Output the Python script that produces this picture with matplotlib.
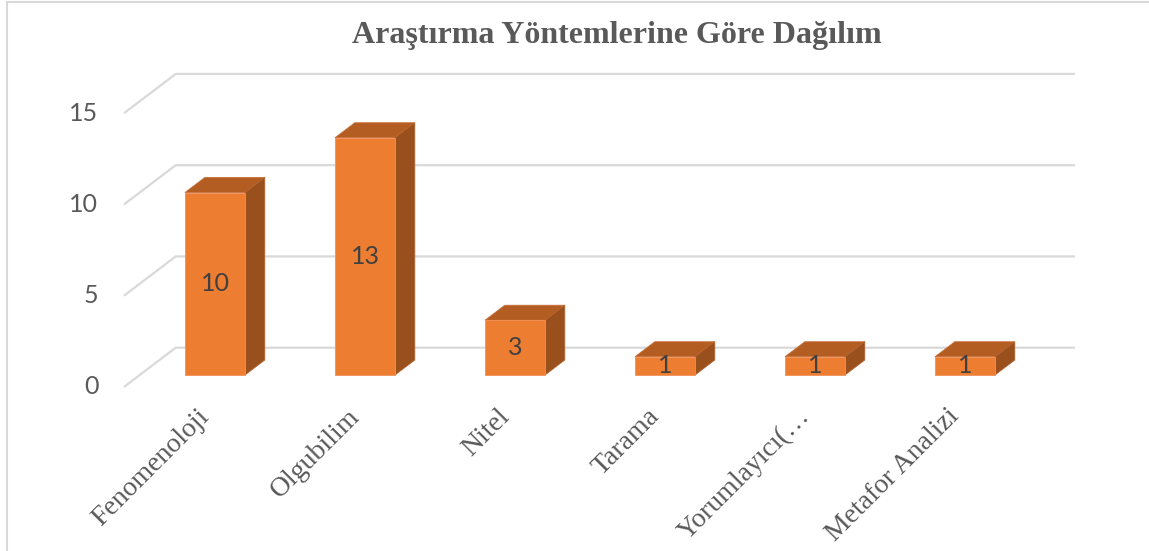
import matplotlib
matplotlib.use("Agg")
import matplotlib.pyplot as plt
from matplotlib.patches import Polygon, Rectangle
from matplotlib.lines import Line2D

# veriler
kategoriler = ["Fenomenoloji", "Olgubilim", "Nitel", "Tarama", "Yorumlayıcı(…", "Metafor Analizi"]
degerler = [10, 13, 3, 1, 1, 1]
y_ticks = [0, 5, 10, 15]
baslik = "Araştırma Yöntemlerine Göre Dağılım"

# renkler
ON = "#ED7D31"
UST = "#B45D22"
YAN = "#9A501D"
GRID = "#D9D9D9"
YAZI = "#595959"

# 3B görünüm için eğik izdüşüm (veri birimi)
DX, DY = 0.345, 2.153   # zeminin tüm derinliği
BAR_ON = 0.305          # bar ön yüzünün derinliği
BAR_ARKA = 0.687        # bar arka yüzünün derinliği
W = 0.4                 # bar genişliği
X0 = -0.607             # zeminin sol ön köşesi
X_SAG = 5.733           # arka duvarın sağ ucu


def nokta(x, v, d):
    return (x + (d - BAR_ON) * DX, v + (d - BAR_ON) * DY)


fig = plt.figure(figsize=(11.49, 5.51), dpi=100)
ax = fig.add_axes([110 / 1149, 131 / 551, 970 / 1149, 360 / 551])
ax.set_xlim((110 - 215) / 150, (1080 - 215) / 150)
ax.set_ylim((375 - 420) / 18.25, (375 - 60) / 18.25)
ax.axis("off")

# kılavuz çizgileri (ön uçtan arka duvara)
for v in y_ticks:
    p0 = (X0 + BAR_ON * DX, v)
    on = nokta(p0[0], v, 0.0)
    arka = nokta(p0[0], v, 1.0)
    sag = (X_SAG, arka[1])
    ax.plot([on[0], arka[0], sag[0]], [on[1], arka[1], sag[1]],
            color=GRID, lw=1.6, zorder=1, solid_capstyle="butt")
    ax.text(on[0] - 0.17, on[1], str(v), ha="right", va="center",
            fontsize=18, color=YAZI, family="Lato")

# barlar
bdx = (BAR_ARKA - BAR_ON) * DX
bdy = (BAR_ARKA - BAR_ON) * DY
for i, v in enumerate(degerler):
    sol, sagx = i - W / 2, i + W / 2
    ust = Polygon([(sol, v), (sagx, v), (sagx + bdx, v + bdy), (sol + bdx, v + bdy)],
                  closed=True, facecolor=UST, edgecolor="#C8703A", lw=0.6, zorder=3)
    yan = Polygon([(sagx, 0), (sagx + bdx, bdy), (sagx + bdx, v + bdy), (sagx, v)],
                  closed=True, facecolor=YAN, edgecolor="#B0622E", lw=0.6, zorder=3)
    on = Rectangle((sol, 0), W, v, facecolor=ON, edgecolor="#F0915A", lw=0.6, zorder=4)
    ax.add_patch(ust)
    ax.add_patch(yan)
    ax.add_patch(on)
    ax.text(i, v / 2, str(v), ha="center", va="center", fontsize=18,
            color="#404040", family="Lato", zorder=5)

# kategori etiketleri
for i, k in enumerate(kategoriler):
    ax.text(i - 0.12, (375 - 404) / 18.25, k, rotation=45, rotation_mode="anchor",
            ha="right", va="top", fontsize=20, color=YAZI,
            family="Liberation Serif", clip_on=False)

fig.text(617 / 1149, 1 - 43 / 551, baslik, ha="center", va="baseline",
         fontsize=23, fontweight="bold", color=YAZI, family="Liberation Serif")

# çerçeve
fig.add_artist(Line2D([7 / 1149, 7 / 1149], [0, 1 - 2 / 551], color=GRID, lw=1.5))
fig.add_artist(Line2D([7 / 1149, 1], [1 - 2 / 551, 1 - 2 / 551], color=GRID, lw=1.5))

fig.savefig("out.png", dpi=100)
